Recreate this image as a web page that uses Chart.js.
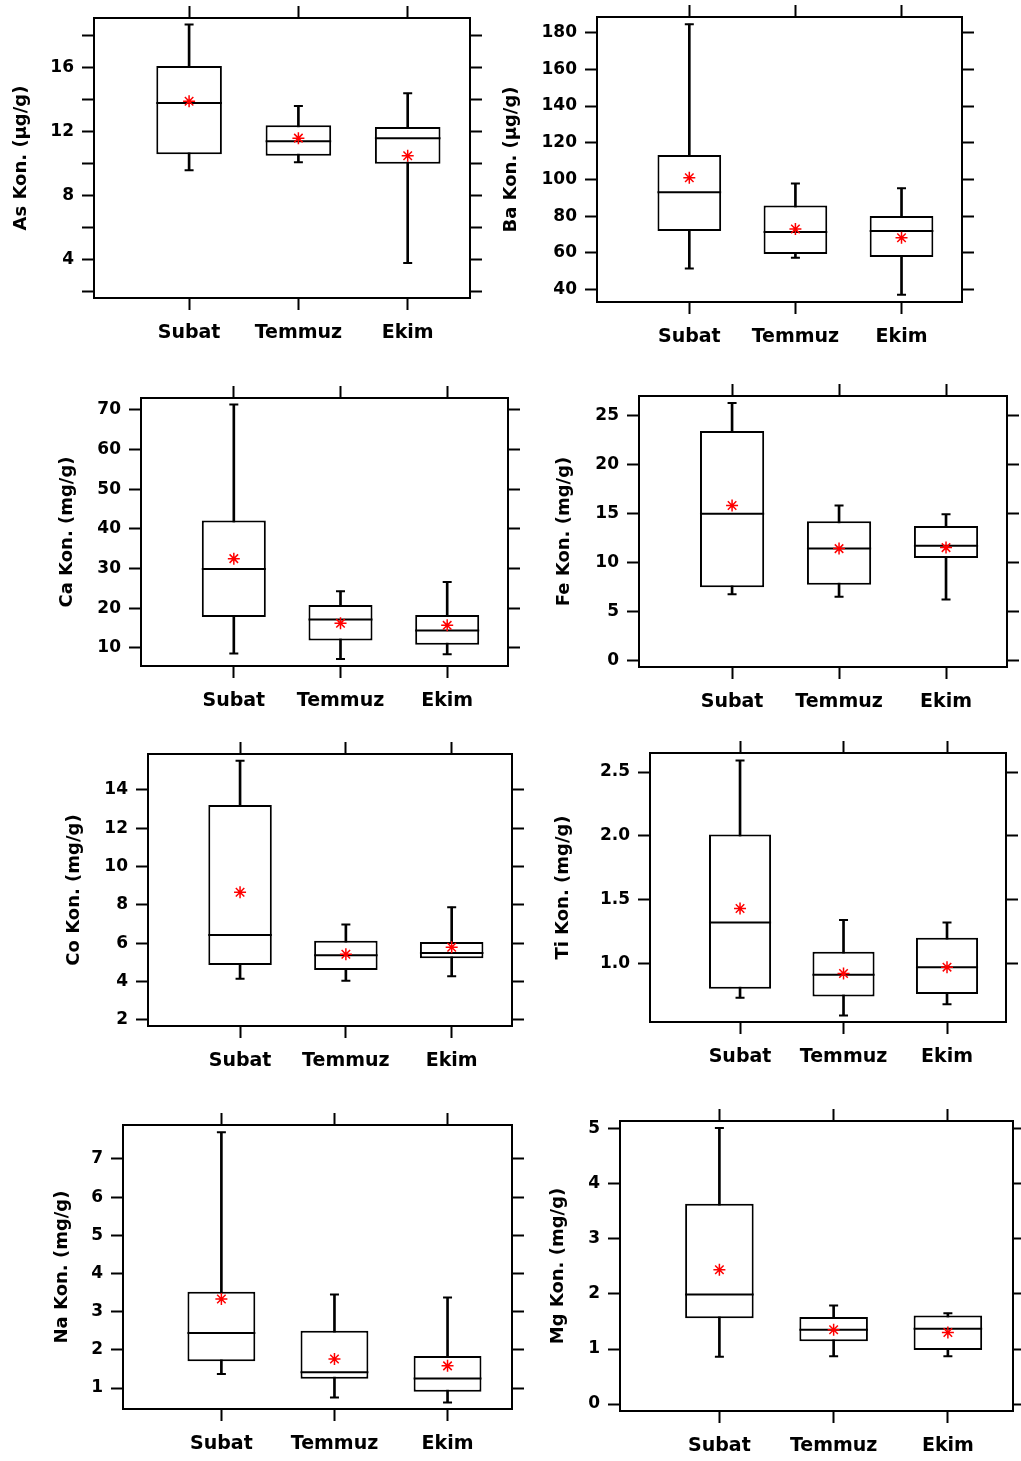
<!DOCTYPE html>
<html>
<head>
<meta charset="utf-8">
<script src="https://cdn.jsdelivr.net/npm/chart.js@4.4.0/dist/chart.umd.min.js"></script>
<style>
  html, body { margin: 0; padding: 0; background: #fff; overflow: hidden; }
  #page { position: relative; width: 1021px; height: 1461px; }
  #page canvas { position: absolute; }
</style>
</head>
<body>
<div id="page"></div>
<script>
const months = ["Subat", "Temmuz", "Ekim"];

// one row per month: [min, q1, median, q3, max]
const asBox = [[9.6, 10.6, 13.8, 16.1, 18.7], [10.1, 10.5, 11.4, 12.4, 13.6], [3.8, 10.0, 11.6, 12.3, 14.4]];
const asMean = [13.9, 11.6, 10.5];

const baBox = [[51.6, 72, 93, 113.4, 184.6], [57.4, 59.4, 71.4, 85.9, 97.8], [37.3, 57.8, 72, 80.2, 95.3]];
const baMean = [101, 73.1, 68.3];

const caBox = [[8.6, 17.8, 29.9, 42.1, 71.3], [7.2, 11.9, 17.2, 20.8, 24.3], [8.4, 10.8, 14.4, 18.3, 26.6]];
const caMean = [32.5, 16.2, 15.7];

const feBox = [[6.75, 7.46, 14.96, 23.41, 26.26], [6.5, 7.7, 11.4, 14.2, 15.8], [6.2, 10.45, 11.7, 13.7, 14.9]];
const feMean = [15.8, 11.4, 11.5];

const coBox = [[4.14, 4.86, 6.43, 13.22, 15.53], [4.04, 4.6, 5.37, 6.12, 6.97], [4.27, 5.21, 5.49, 6.06, 7.88]];
const coMean = [8.66, 5.42, 5.78];

const tiBox = [[0.73, 0.8, 1.32, 2.01, 2.59], [0.59, 0.74, 0.91, 1.09, 1.34], [0.68, 0.76, 0.97, 1.2, 1.32]];
const tiMean = [1.43, 0.92, 0.97];

const naBox = [[1.37, 1.7, 2.44, 3.52, 7.7], [0.75, 1.24, 1.41, 2.5, 3.45], [0.62, 0.9, 1.25, 1.84, 3.37]];
const naMean = [3.33, 1.76, 1.58];

const mgBox = [[0.86, 1.56, 1.99, 3.64, 5.02], [0.87, 1.14, 1.35, 1.58, 1.79], [0.87, 0.98, 1.37, 1.61, 1.65]];
const mgMean = [2.44, 1.35, 1.3];

// plot = [left, top, right, bottom] of the framed area on the page
const panels = [
  { title: "As Kon. (µg/g)", box: asBox, mean: asMean, plot: [94, 18, 470, 298], titleX: 22, y: [1.62, 19.1], step: 2, every: 4, dec: 0 },
  { title: "Ba Kon. (µg/g)", box: baBox, mean: baMean, plot: [597, 17, 962, 302], titleX: 512, y: [33.3, 188.5], step: 20, every: 20, dec: 0 },
  { title: "Ca Kon. (mg/g)", box: caBox, mean: caMean, plot: [141, 398, 508, 666], titleX: 68, y: [5.46, 72.95], step: 10, every: 10, dec: 0 },
  { title: "Fe Kon. (mg/g)", box: feBox, mean: feMean, plot: [639, 396, 1007, 667], titleX: 565, y: [-0.68, 26.97], step: 5, every: 5, dec: 0 },
  { title: "Co Kon. (mg/g)", box: coBox, mean: coMean, plot: [148, 754, 512, 1026], titleX: 75, y: [1.67, 15.88], step: 2, every: 2, dec: 0 },
  { title: "Ti Kon. (mg/g)", box: tiBox, mean: tiMean, plot: [650, 753, 1006, 1022], titleX: 564, y: [0.54, 2.649], step: 0.5, every: 0.5, dec: 1 },
  { title: "Na Kon. (mg/g)", box: naBox, mean: naMean, plot: [123, 1125, 512, 1409], titleX: 63, y: [0.45, 7.89], step: 1, every: 1, dec: 0 },
  { title: "Mg Kon. (mg/g)", box: mgBox, mean: mgMean, plot: [620, 1121, 1013, 1411], titleX: 559, y: [-0.127, 5.145], step: 1, every: 1, dec: 0 },
];

const FONT = "DejaVu Sans";

// median line and whisker caps, placed with the chart's own scales
const boxParts = {
  id: "boxParts",
  afterDatasetDraw(chart, args, opts) {
    if (args.index !== 1) return;
    const ctx = chart.ctx;
    const y = chart.scales.y;
    ctx.save();
    ctx.strokeStyle = "#000";
    ctx.lineWidth = 2;
    args.meta.data.forEach((bar, i) => {
      const b = opts.box[i];
      const half = bar.width / 2;
      const ym = y.getPixelForValue(b[2]);
      ctx.beginPath();
      ctx.moveTo(bar.x - half, ym);
      ctx.lineTo(bar.x + half, ym);
      [b[0], b[4]].forEach((v) => {
        const yy = y.getPixelForValue(v);
        ctx.moveTo(bar.x - 4.5, yy);
        ctx.lineTo(bar.x + 4.5, yy);
      });
      ctx.stroke();
    });
    ctx.restore();
  },
};

const page = document.getElementById("page");

panels.forEach((p) => {
  const [pl, pt, pr, pb] = p.plot;
  const left = p.titleX - 11;
  const top = pt - 22;
  const right = pr + 16;
  const bottom = pb + 54;

  const canvas = document.createElement("canvas");
  canvas.width = right - left;
  canvas.height = bottom - top;
  canvas.style.left = left + "px";
  canvas.style.top = top + "px";
  page.appendChild(canvas);

  const xs = [1, 2, 3];
  const tickGrid = { display: true, drawOnChartArea: false, drawTicks: true, tickLength: 12, tickWidth: 2, tickColor: "#000", offset: false };
  const border = { display: true, color: "#000", width: 2 };

  const xAxis = (pos, size, showLabels) => ({
    type: "linear",
    position: pos,
    min: 0.13,
    max: 3.57,
    offset: false,
    grid: tickGrid,
    border: border,
    afterBuildTicks: (s) => { s.ticks = xs.map((v) => ({ value: v })); },
    afterFit: (s) => { s.height = size; },
    ticks: {
      display: showLabels,
      padding: 12,
      color: "#000",
      font: { family: FONT, weight: "bold", size: 19 },
      callback: (v) => months[v - 1],
    },
  });

  const yAxis = (pos, size, showLabels) => ({
    type: "linear",
    position: pos,
    min: p.y[0],
    max: p.y[1],
    grid: tickGrid,
    border: border,
    afterFit: (s) => { s.width = size; },
    title: showLabels ? {
      display: true,
      text: p.title,
      color: "#000",
      padding: 0,
      font: { family: FONT, weight: "bold", size: 18 },
    } : { display: false },
    ticks: {
      display: showLabels,
      stepSize: p.step,
      includeBounds: false,
      autoSkip: false,
      padding: 8,
      color: "#000",
      font: { family: FONT, weight: "bold", size: 17 },
      callback: (v) => {
        const k = v / p.every;
        return Math.abs(k - Math.round(k)) < 1e-6 ? Number(v).toFixed(p.dec) : "";
      },
    },
  });

  new Chart(canvas, {
    type: "bar",
    data: {
      datasets: [
        {
          label: "whisker",
          data: p.box.map((b, i) => ({ x: xs[i], y: [b[0], b[4]] })),
          backgroundColor: "#000",
          borderWidth: 0,
          barThickness: 2,
          grouped: false,
          order: 3,
          xAxisID: "x",
          yAxisID: "y",
        },
        {
          label: "box",
          data: p.box.map((b, i) => ({ x: xs[i], y: [b[1], b[3]] })),
          backgroundColor: "#fff",
          borderColor: "#000",
          borderWidth: 2,
          borderSkipped: false,
          categoryPercentage: 0.6,
          barPercentage: 1,
          grouped: false,
          order: 2,
          xAxisID: "x",
          yAxisID: "y",
        },
        {
          type: "scatter",
          label: "mean",
          data: p.mean.map((m, i) => ({ x: xs[i], y: m })),
          pointStyle: "star",
          pointRadius: 6,
          pointBorderWidth: 1.5,
          pointBorderColor: "#ff0000",
          pointBackgroundColor: "#ff0000",
          order: 1,
          xAxisID: "x",
          yAxisID: "y",
        },
      ],
    },
    options: {
      responsive: false,
      animation: false,
      layout: { padding: 0, autoPadding: false },
      plugins: {
        legend: { display: false },
        tooltip: { enabled: false },
        boxParts: { box: p.box },
      },
      scales: {
        x: xAxis("bottom", bottom - pb, true),
        xTop: xAxis("top", pt - top, false),
        y: yAxis("left", pl - left, true),
        yRight: yAxis("right", right - pr, false),
      },
    },
    plugins: [boxParts],
  });
});
</script>
</body>
</html>
